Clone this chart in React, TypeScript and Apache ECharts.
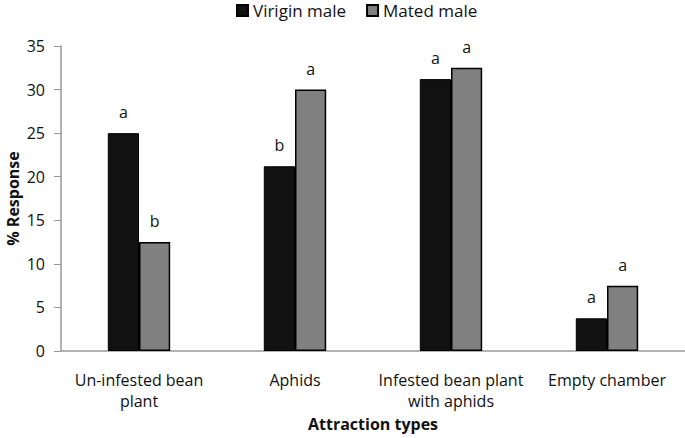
import React, { useEffect, useRef } from "react";
import * as echarts from "echarts";

const categories = ["Un-infested bean\nplant", "Aphids", "Infested bean plant\nwith aphids", "Empty chamber"];
const virginValues = [25, 21.2, 31.2, 3.75];
const matedValues = [12.5, 30, 32.5, 7.5];
const virginLetters = ["a", "b", "a", "a"];
const matedLetters = ["b", "a", "a", "a"];
const yTicks = { min: 0, max: 35, interval: 5 };

const FONT = "'Open Sans', 'Liberation Sans', sans-serif";

export default function App() {
  const ref = useRef<HTMLDivElement>(null);
  useEffect(() => {
    if (!ref.current) return;
    const chart = echarts.init(ref.current, null, { renderer: "svg" });
    const mkLabel = (letters: string[]) => ({
      show: true,
      position: "top",
      distance: 13,
      color: "#111",
      fontSize: 16,
      fontFamily: FONT,
      formatter: (p: any) => letters[p.dataIndex],
    });
    chart.setOption({
      animation: false,
      backgroundColor: "#fff",
      textStyle: { fontFamily: FONT },
      legend: {
        top: 0,
        left: 231,
        padding: [2, 5],
        icon: "rect",
        itemWidth: 11,
        itemHeight: 11,
        itemGap: 20,
        textStyle: { fontSize: 17, color: "#111", fontFamily: FONT },
        data: ["Virigin male", "Mated male"],
      },
      grid: { left: 61, right: 0, top: 46, bottom: 87, containLabel: false, outerBoundsMode: "none" },
      xAxis: {
        type: "category",
        data: categories,
        name: "Attraction types",
        nameLocation: "middle",
        nameGap: 60,
        nameTextStyle: { fontSize: 16, fontWeight: "bold", color: "#111", fontFamily: FONT },
        axisLine: { lineStyle: { color: "#999", width: 1.5 } },
        axisTick: { show: false },
        axisLabel: { fontSize: 16, color: "#111", margin: 18, lineHeight: 21, interval: 0, fontFamily: FONT },
      },
      yAxis: {
        type: "value",
        min: yTicks.min,
        max: yTicks.max,
        interval: yTicks.interval,
        name: "% Response",
        nameLocation: "middle",
        nameGap: 40,
        nameMoveOverlap: false,
        nameTextStyle: { fontSize: 16, fontWeight: "bold", color: "#111", fontFamily: FONT },
        axisLine: { show: true, lineStyle: { color: "#999", width: 1.5 } },
        axisTick: { show: true, length: 7, lineStyle: { color: "#999" } },
        splitLine: { show: false },
        axisLabel: { fontSize: 16, color: "#111", margin: 16, fontFamily: FONT },
      },
      series: [
        {
          name: "Virigin male",
          type: "bar",
          data: virginValues,
          barGap: "0%",
          barCategoryGap: "60%",
          itemStyle: { color: "#111111", borderColor: "#000", borderWidth: 1 },
          label: mkLabel(virginLetters),
        },
        {
          name: "Mated male",
          type: "bar",
          data: matedValues,
          itemStyle: { color: "#808080", borderColor: "#000", borderWidth: 1.5 },
          label: mkLabel(matedLetters),
        },
      ],
    });
    return () => chart.dispose();
  }, []);
  return <div ref={ref} style={{ width: 685, height: 438, position: "absolute", left: 0, top: 0 }} />;
}
